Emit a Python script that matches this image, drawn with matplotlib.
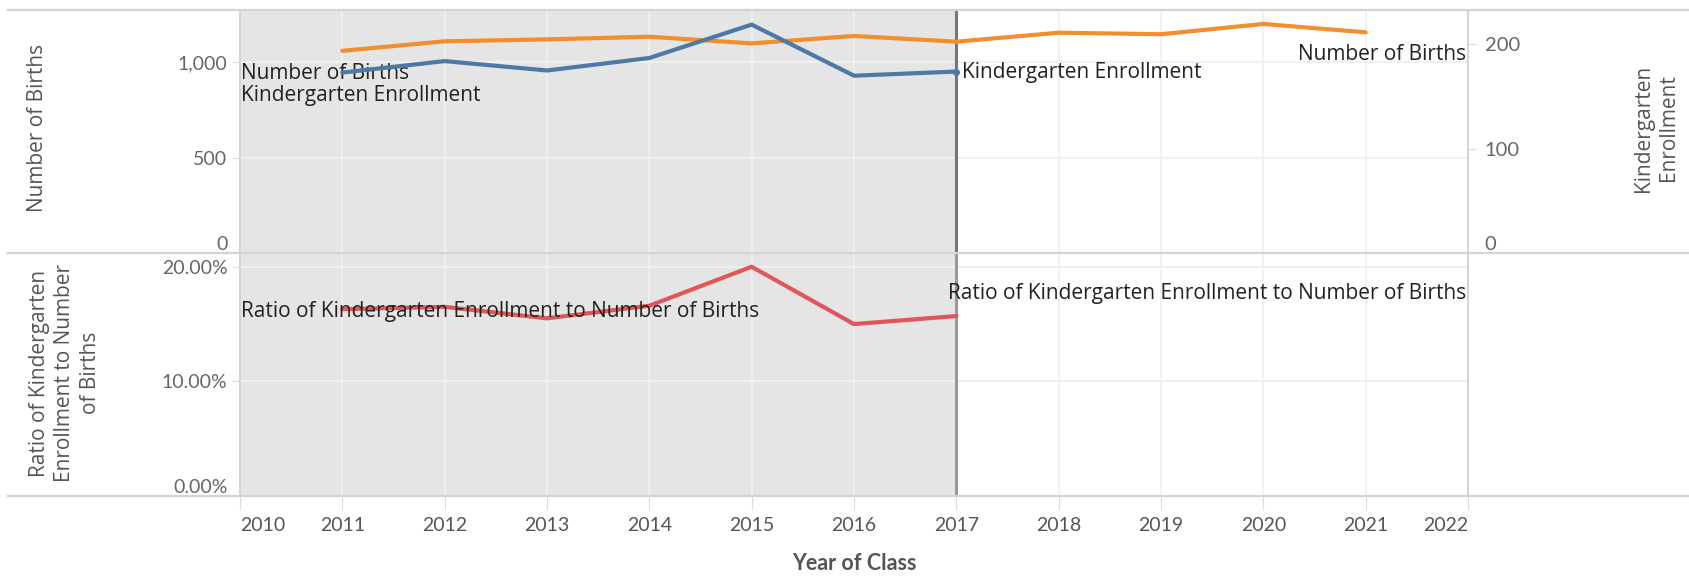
import matplotlib.pyplot as plt
from matplotlib.lines import Line2D
from matplotlib.ticker import FuncFormatter

# data
years = [2011, 2012, 2013, 2014, 2015, 2016, 2017, 2018, 2019, 2020, 2021]
births = [1059, 1109, 1119, 1133, 1098, 1137, 1107, 1154, 1146, 1200, 1156]
enroll_years = [2011, 2012, 2013, 2014, 2015, 2016, 2017]
enrollment = [173, 184, 175, 187, 219, 170, 174]
ratio = [0.163, 0.165, 0.155, 0.166, 0.200, 0.150, 0.157]
year_ticks = list(range(2010, 2023))
births_ticks = [0, 500, 1000]
enroll_ticks = [0, 100, 200]
ratio_ticks = [0.0, 0.10, 0.20]

W, H = 1690, 577
plt.rcParams['font.family'] = ['Lato', 'DejaVu Sans']
LABEL_FONT = ['Open Sans', 'DejaVu Sans']

ORANGE = '#F28E2B'
BLUE = '#4E79A7'
RED = '#E15759'
SHADE = '#e5e5e5'
GRID = '#f0f0f0'
BORDER = '#d4d4d4'
TXT = '#666666'

fig = plt.figure(figsize=(W / 100, H / 100), dpi=100)


def box(x0, y0, x1, y1):
    # pixel box (top-left origin) -> figure fraction rect
    return [x0 / W, 1 - y1 / H, (x1 - x0) / W, (y1 - y0) / H]


ax_top = fig.add_axes(box(240, 10, 1468, 253))
ax_bot = fig.add_axes(box(240, 253, 1468, 496))
ax_r = ax_top.twinx()

for ax in (ax_top, ax_bot):
    ax.set_xlim(2010, 2022)
    ax.axvspan(2010, 2017, color=SHADE, zorder=0, lw=0)
    for yr in year_ticks[1:-1]:
        ax.axvline(yr, color=GRID, lw=1.2, zorder=1)
    for sp in ax.spines.values():
        sp.set_visible(False)
    ax.tick_params(axis='y', length=6, color='#dddddd', labelsize=14,
                   labelcolor=TXT, pad=3)

ax_top.set_ylim(0, 1273)
ax_r.set_ylim(0, 233)
ax_bot.set_ylim(0, 0.212)

for v in births_ticks[1:]:
    ax_top.axhline(v, color=GRID, lw=1.5, zorder=1)
for v in ratio_ticks[1:]:
    ax_bot.axhline(v, color=GRID, lw=1.5, zorder=1)

ax_top.axvline(2017, color='#777777', lw=2.2, zorder=2)
ax_bot.axvline(2017, color='#999999', lw=2.2, zorder=2)

# lines
ax_top.plot(years, births, color=ORANGE, lw=3, solid_capstyle='round', zorder=4)
ax_r.plot(enroll_years, enrollment, color=BLUE, lw=3, solid_capstyle='round', zorder=4)
ax_r.plot(enroll_years[-1:], enrollment[-1:], 'o', color=BLUE, ms=4, zorder=5)
ax_bot.plot(enroll_years, ratio, color=RED, lw=3, solid_capstyle='round', zorder=4)

# y axes
ax_top.set_yticks(births_ticks)
ax_top.yaxis.set_major_formatter(FuncFormatter(lambda v, p: f'{int(v):,}'))
ax_r.set_yticks(enroll_ticks)
ax_r.tick_params(axis='y', length=6, color='#dddddd', labelsize=14.5,
                 labelcolor=TXT, pad=6)
for sp in ax_r.spines.values():
    sp.set_visible(False)
ax_bot.set_yticks(ratio_ticks)
ax_bot.yaxis.set_major_formatter(FuncFormatter(lambda v, p: f'{v:.2%}'))
for ax in (ax_top, ax_r, ax_bot):
    ax.get_yticklabels()[0].set_va('bottom')

# x axis
ax_top.set_xticks([])
ax_bot.set_xticks(year_ticks)
ax_bot.set_xticklabels([str(y) for y in year_ticks])
ax_bot.tick_params(axis='x', length=10, color='#dddddd', labelsize=14,
                   labelcolor='#555555', pad=5)
ax_bot.get_xticklabels()[0].set_ha('left')
ax_bot.get_xticklabels()[-1].set_ha('right')
ax_bot.set_xlabel('Year of Class', fontsize=15.5, fontweight='bold',
                  color='#555555', labelpad=14)

# axis titles
title_kw = dict(rotation=90, ha='center', va='center', fontsize=15,
                color='#555555', family=LABEL_FONT, linespacing=1.3,
                multialignment='center')
fig.text(38 / W, 1 - 128 / H, 'Number of Births', **title_kw)
fig.text(65 / W, 1 - 373 / H,
         'Ratio of Kindergarten\nEnrollment to Number\nof Births', **title_kw)
fig.text(1656 / W, 1 - 128 / H, 'Kindergarten\nEnrollment', **title_kw)

# mark labels
lab = dict(fontsize=15, color='#222222', zorder=6, family=LABEL_FONT,
           textcoords='offset points', va='center')
ax_top.annotate('Number of Births', xy=(2010, births[0]), xytext=(1, -16.5),
                ha='left', **lab)
ax_top.annotate('Kindergarten Enrollment', xy=(2010, births[0]), xytext=(1, -32.5),
                ha='left', **lab)
ax_r.annotate('Kindergarten Enrollment', xy=(enroll_years[-1], enrollment[-1]),
              xytext=(4, -1), ha='left', **lab)
ax_top.annotate('Number of Births', xy=(2022, births[-1]), xytext=(-1, -16),
                ha='right', **lab)
ax_bot.annotate('Ratio of Kindergarten Enrollment to Number of Births',
                xy=(2010, ratio[0]), xytext=(1, -2), ha='left', **lab)
ax_bot.annotate('Ratio of Kindergarten Enrollment to Number of Births',
                xy=(2022, ratio[-1]), xytext=(-1, 16), ha='right', **lab)


# panel borders
def hline(y, x0=8, x1=W):
    fig.add_artist(Line2D([x0 / W, x1 / W], [1 - y / H, 1 - y / H],
                          color=BORDER, lw=1.6))


def vline(x, y0=10, y1=496):
    fig.add_artist(Line2D([x / W, x / W], [1 - y0 / H, 1 - y1 / H],
                          color=BORDER, lw=1.4))


hline(10)
hline(253)
hline(496)
vline(240)
vline(1468)

fig.savefig('out.png', dpi=100)
